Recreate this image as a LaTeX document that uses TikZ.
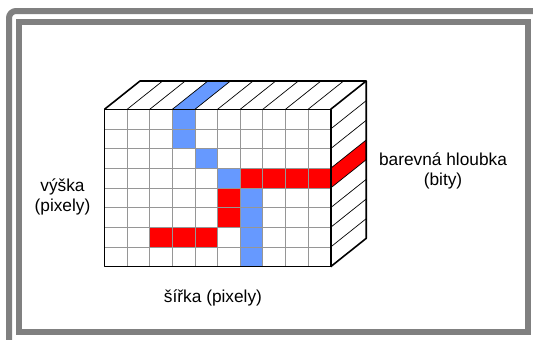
\documentclass[tikz,border=0pt]{standalone}
\usepackage{fontspec}
\setmainfont{Liberation Sans}
\definecolor{framegray}{RGB}{128,128,128}
\definecolor{pixblue}{RGB}{102,153,255}
\definecolor{pixred}{RGB}{255,0,0}
\definecolor{gridgray}{RGB}{150,150,150}
\begin{document}
\begin{tikzpicture}[x=1pt,y=-1pt,
  lbl/.style={font=\fontsize{17.3}{20}\selectfont, align=center, inner sep=0pt},
  framestyle/.style={framegray, line width=6pt},
  gridline/.style={gridgray, line width=0.8pt},
  stripe/.style={black, line width=0.7pt},
  edge/.style={black, line width=1.6pt, line join=round}]
\useasboundingbox (0,0) rectangle (533,340);
\begin{scope}
  \clip (0,0) rectangle (533,340);
  \draw[framestyle, rounded corners=7pt] (9,11) rectangle (620,420);
\end{scope}
\draw[framestyle] (19,22) rectangle (528,332);

\def\X{104.5}
\def\Y{109.3}
\def\W{22.62}
\def\H{19.67}
\def\DX{35.5}
\def\DY{-28.3}
\newcommand\pixcell[3]{\fill[#3] ({\X+#1*\W},{\Y+#2*\H}) rectangle ++(\W,\H);}

% front face fills
\fill[white] (\X,\Y) rectangle ({\X+10*\W},{\Y+8*\H});
\pixcell{3}{0}{pixblue}
\pixcell{3}{1}{pixblue}
\pixcell{4}{2}{pixblue}
\pixcell{5}{3}{pixblue}
\foreach \r in {4,...,7} {\pixcell{6}{\r}{pixblue}}
\foreach \c in {6,...,9} {\pixcell{\c}{3}{pixred}}
\pixcell{5}{4}{pixred}
\pixcell{5}{5}{pixred}
\foreach \c in {2,3,4} {\pixcell{\c}{6}{pixred}}

% top face blue stripe
\fill[pixblue] ({\X+3*\W},\Y) -- ++(\W,0) -- ++(\DX,\DY) -- ++(-\W,0) -- cycle;
% right face red stripe
\fill[pixred] ({\X+10*\W},{\Y+3*\H}) -- ++(0,\H) -- ++(\DX,\DY) -- ++(0,-\H) -- cycle;

% grid
\foreach \i in {1,...,9} {\draw[gridline] ({\X+\i*\W},\Y) -- ++(0,{8*\H});}
\foreach \j in {1,...,7} {\draw[gridline] (\X,{\Y+\j*\H}) -- ++({10*\W},0);}

% stripes
\foreach \i in {1,...,9} {\draw[stripe] ({\X+\i*\W},\Y) -- ++(\DX,\DY);}
\foreach \j in {1,...,7} {\draw[stripe] ({\X+10*\W},{\Y+\j*\H}) -- ++(\DX,\DY);}

% outline
\draw[edge] (\X,\Y) rectangle ({\X+10*\W},{\Y+8*\H});
\draw[edge] (\X,\Y) -- ++(\DX,\DY) -- ++({10*\W},0) -- ++({-\DX},{-\DY});
\draw[edge] ({\X+10*\W+\DX},{\Y+\DY}) -- ++(0,{8*\H}) -- ({\X+10*\W},{\Y+8*\H});

% labels
\node[lbl] (vyska) at (62.5,196.5) {výška\\(pixely)};
\node[lbl] (sirka) at (213,298) {šířka (pixely)};
\node[lbl] (hloubka) at (443,171) {barevná hloubka\\(bity)};
\end{tikzpicture}
\end{document}
